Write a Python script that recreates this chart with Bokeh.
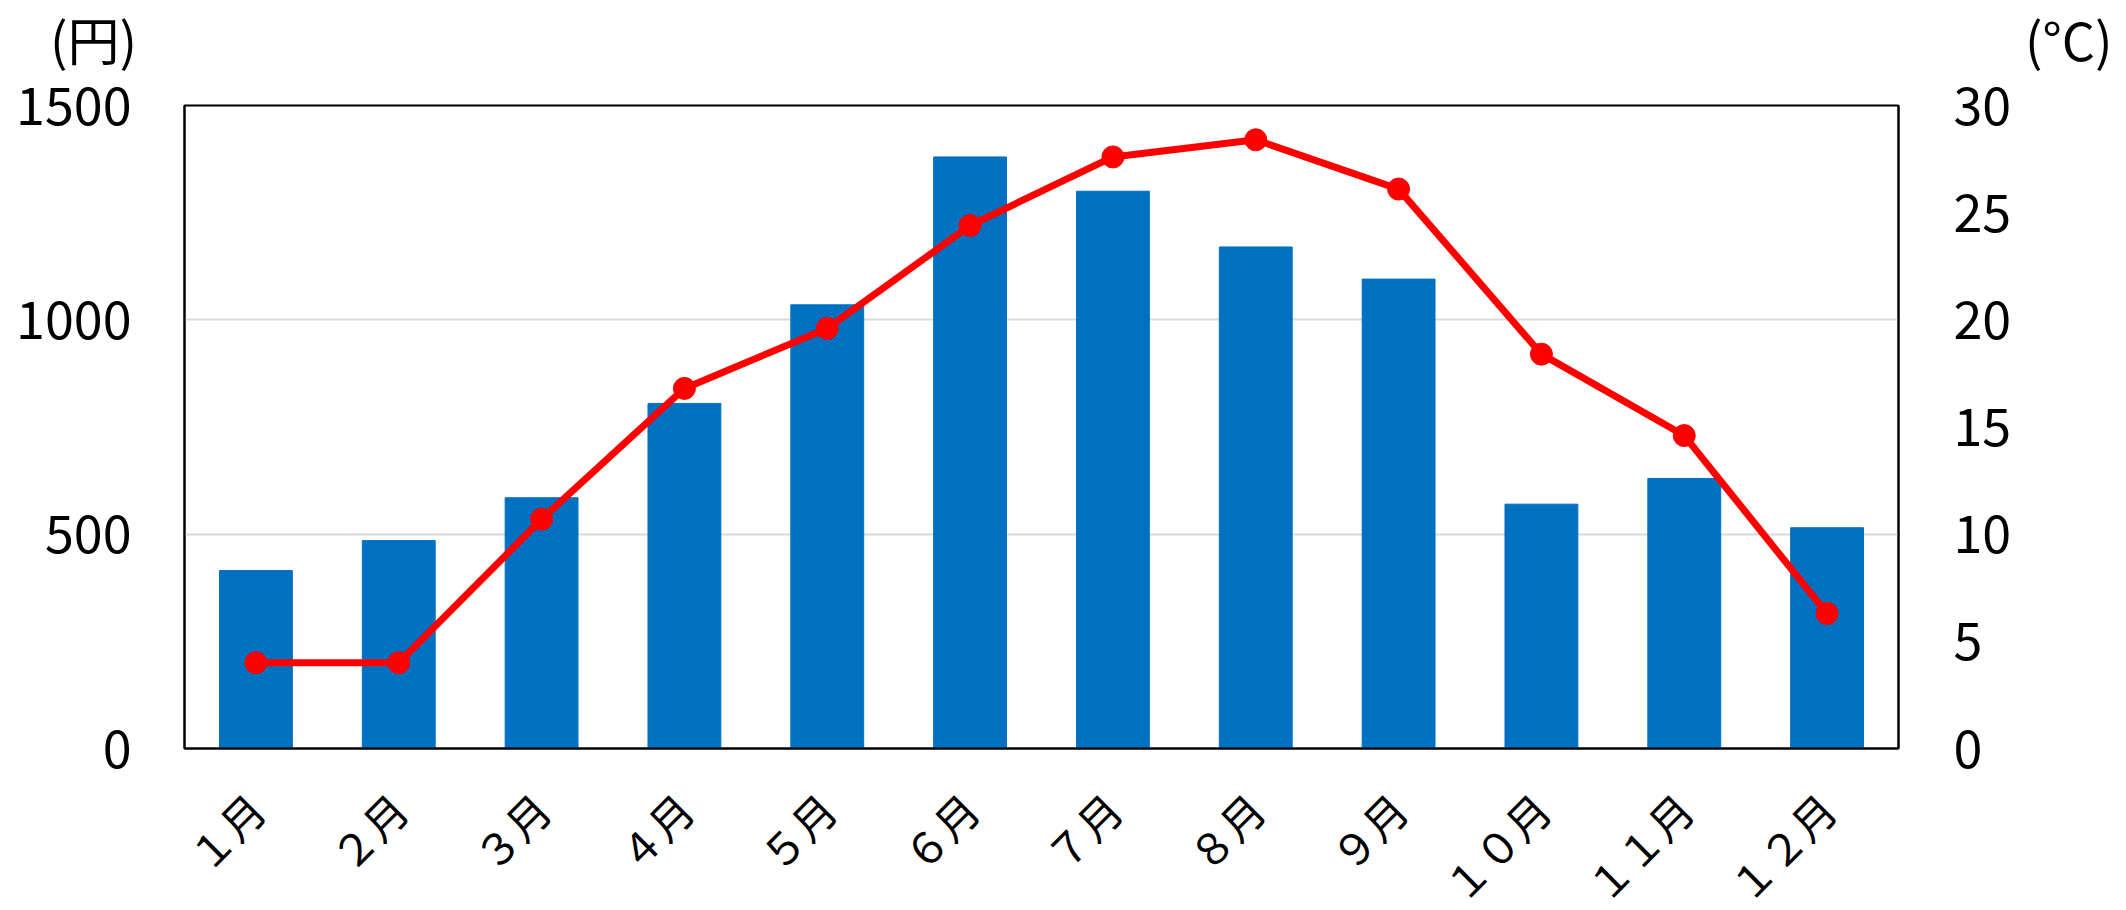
import math

from bokeh.plotting import figure
from bokeh.layouts import column, row
from bokeh.models import Range1d, LinearAxis, FixedTicker, FactorRange, Div
from bokeh.embed import file_html
from bokeh.resources import INLINE

# Monthly data
months = ["１月", "２月", "３月", "４月", "５月", "６月",
          "７月", "８月", "９月", "１０月", "１１月", "１２月"]
cost_yen = [415, 485, 585, 805, 1035, 1380, 1300, 1170, 1095, 570, 630, 515]
temp_c = [4.0, 4.0, 10.7, 16.8, 19.6, 24.4, 27.6, 28.4, 26.1, 18.4, 14.6, 6.3]

cost_ticks = [0, 500, 1000, 1500]
temp_ticks = [0, 5, 10, 15, 20, 25, 30]
grid_ticks = [500, 1000]

FONT = "Noto Sans CJK JP"
BAR_BLUE = "#0070C0"
LINE_RED = "#FF0000"

FRAME_W, FRAME_H = 1714, 643
HEADER_H = 58

p = figure(
    x_range=FactorRange(*months, range_padding=0),
    y_range=Range1d(0, 1500),
    frame_width=FRAME_W, frame_height=FRAME_H,
    min_border_left=184, min_border_right=228,
    min_border_top=105 - HEADER_H, min_border_bottom=162,
    output_backend="svg", toolbar_location=None,
)
p.border_fill_color = None   # let the unit captions show through the top border
p.background_fill_color = "white"
p.extra_y_ranges = {"temp": Range1d(0, 30)}

# bars: monthly cost (left axis)
p.vbar(x=months, top=cost_yen, width=0.51, fill_color=BAR_BLUE,
       line_color=BAR_BLUE, line_width=1)

# line + markers: temperature (right axis)
p.line(x=months, y=temp_c, y_range_name="temp", line_color=LINE_RED,
       line_width=7, line_join="round")
p.scatter(x=months, y=temp_c, y_range_name="temp", size=22,
          fill_color=LINE_RED, line_color=LINE_RED)

# frame and grid
p.outline_line_color = "black"
p.outline_line_width = 2
p.xgrid.grid_line_color = None
p.ygrid.ticker = FixedTicker(ticks=grid_ticks)
p.ygrid.grid_line_color = "#D9D9D9"
p.ygrid.grid_line_width = 2

def style_axis(ax, size):
    ax.major_label_text_font = FONT
    ax.major_label_text_font_size = size
    ax.major_label_text_color = "black"
    ax.major_tick_line_color = None
    ax.minor_tick_line_color = None
    ax.major_tick_out = 0
    ax.major_tick_in = 0
    ax.axis_line_color = "black"
    ax.axis_line_width = 2

# left axis
yax = p.yaxis[0]
yax.ticker = FixedTicker(ticks=cost_ticks)
style_axis(yax, "52px")
yax.major_label_standoff = 53

# right axis
rax = LinearAxis(y_range_name="temp", ticker=FixedTicker(ticks=temp_ticks))
style_axis(rax, "52px")
rax.major_label_standoff = 55
p.add_layout(rax, "right")

# bottom axis
xax = p.xaxis[0]
style_axis(xax, "43px")
xax.major_label_orientation = math.pi / 4
xax.major_label_standoff = 52

# unit captions above the two value axes
def unit_caption(text, width, pad_left):
    return Div(
        text=text, width=width, height=HEADER_H,
        styles={"font-family": FONT, "font-size": "52px", "color": "black",
                "line-height": "78px", "padding-left": f"{pad_left}px",
                "white-space": "nowrap", "margin": "0", "overflow": "visible",
                "box-sizing": "border-box"},
    )

header = row(unit_caption("(円)", 1950, 50), unit_caption("(°C)", 176, 75),
             spacing=0)
layout = column(header, p, spacing=0)

open("out.html", "w").write(file_html(layout, INLINE))
